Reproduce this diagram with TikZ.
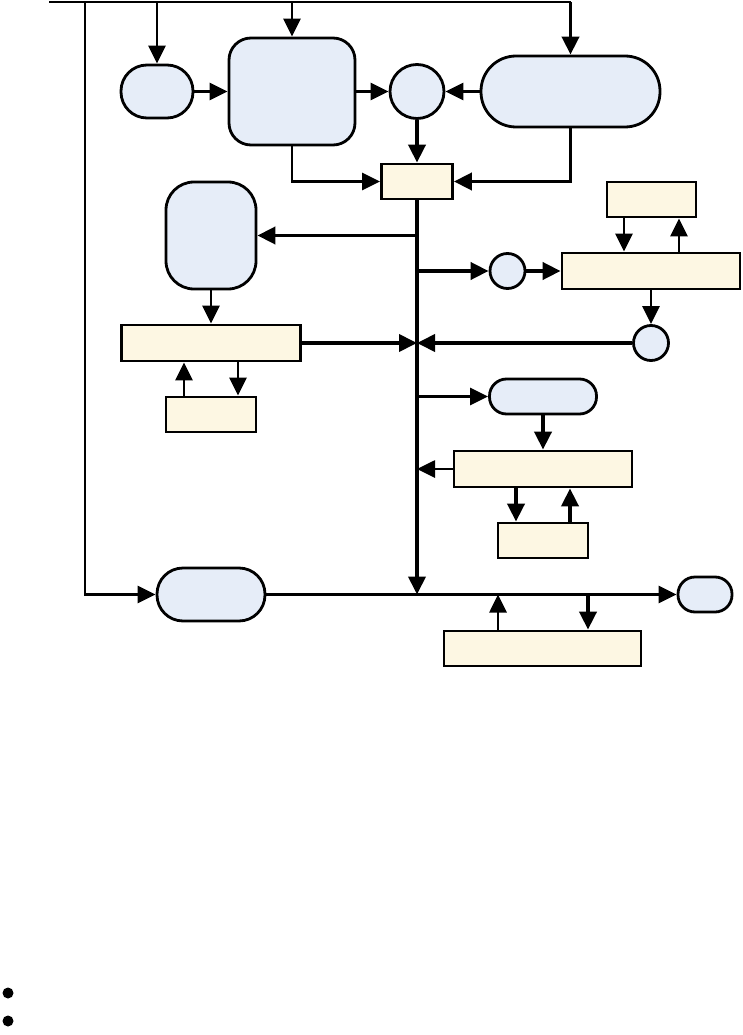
\documentclass[tikz,border=0pt]{standalone}
\usetikzlibrary{arrows.meta}
\definecolor{bfill}{RGB}{230,237,248}
\definecolor{yfill}{RGB}{253,247,227}
\begin{document}
\begin{tikzpicture}[x=1pt,y=-1pt,
  bluebox/.style={draw, line width=2.8pt, fill=bfill, inner sep=0pt},
  yelbox/.style={draw, line width=2.8pt, fill=yfill, inner sep=0pt},
  circ/.style={draw, line width=2.8pt, fill=bfill, circle, inner sep=0pt},
  conn/.style={line width=2.7pt},
  arr/.style={line width=2.7pt, -{Triangle[length=18pt,width=17pt]}},
  tarr/.style={line width=3.9pt, -{Triangle[length=18pt,width=17pt]}}]
\useasboundingbox (0,0) rectangle (742,1035);
% nodes
\node[bluebox, rounded corners=26pt, minimum width=72pt, minimum height=53pt] (s1) at (157,91.5) {};
\node[bluebox, rounded corners=22pt, minimum width=126pt, minimum height=107pt] (big) at (292,91.5) {};
\node[circ, minimum size=54pt] (c1) at (417,91.5) {};
\node[bluebox, rounded corners=35pt, minimum width=179pt, minimum height=71pt] (cap1) at (570.5,91.5) {};
\node[yelbox, minimum width=71pt, minimum height=35pt] (b1) at (417,181.5) {};
\node[bluebox, rounded corners=28pt, minimum width=90pt, minimum height=107pt] (tall) at (211,235.5) {};
\node[yelbox, minimum width=179pt, minimum height=36pt] (w1) at (211,343) {};
\node[yelbox, minimum width=90pt, minimum height=35pt] (sb1) at (211,414.5) {};
\node[circ, minimum size=35pt] (c2) at (507.5,271) {};
\node[yelbox, minimum width=178pt, minimum height=36pt] (w2) at (651,271) {};
\node[yelbox, minimum width=89pt, minimum height=35pt] (sb2) at (651.5,199.5) {};
\node[circ, minimum size=35pt] (c3) at (651,343) {};
\node[bluebox, rounded corners=17pt, minimum width=107pt, minimum height=35pt] (cap2) at (543,396.5) {};
\node[yelbox, minimum width=178pt, minimum height=36pt] (w3) at (543,469) {};
\node[yelbox, minimum width=90pt, minimum height=35pt] (sb3) at (543,540.5) {};
\node[bluebox, rounded corners=26pt, minimum width=108pt, minimum height=53pt] (cap3) at (211,594.5) {};
\node[bluebox, rounded corners=17pt, minimum width=54pt, minimum height=35pt] (cap4) at (705,594.5) {};
\node[yelbox, minimum width=197pt, minimum height=35pt] (w4) at (542.5,648.5) {};
% coordinates
\coordinate (tl) at (49,2);
\coordinate (tr) at (570.5,2);
\coordinate (lx) at (85,2);
\coordinate (busend) at (417,594.5);
% top distribution line
\draw[conn] (tl) -- (tr);
\draw[arr] (s1.north |- tl) -- (s1.north);
\draw[arr] (big.north |- tl) -- (big.north);
\draw[tarr] (tr) -- (cap1.north);
\draw[arr] (lx) -- (lx |- cap3.west) -- (cap3.west);
% upper flow
\draw[arr] (s1.east) -- (big.west);
\draw[arr] (big.east) -- (c1.west);
\draw[arr] (cap1.west) -- (c1.east);
\draw[tarr] (c1.south) -- (b1.north);
\draw[arr] (big.south) |- (b1.west);
\draw[tarr] (cap1.south) |- (b1.east);
% bus
\draw[tarr] (b1.south) -- (busend);
\draw[tarr] (b1.south |- tall.east) -- (tall.east);
\draw[arr] (tall.south) -- (w1.north);
\draw[tarr] (w1.east) -- (b1.south |- w1.east);
\draw[arr] ([xshift=-27pt]sb1.north) -- ([xshift=-27pt]w1.south);
\draw[arr] ([xshift=27pt]w1.south) -- ([xshift=27pt]sb1.north);
% right branch 1
\draw[tarr] (b1.south |- c2.west) -- (c2.west);
\draw[tarr] (c2.east) -- (w2.west);
\draw[arr] ([xshift=-27.5pt]sb2.south) -- ([xshift=-27.5pt]sb2.south |- w2.north);
\draw[arr] ([xshift=27.5pt]sb2.south |- w2.north) -- ([xshift=27.5pt]sb2.south);
\draw[arr] (w2.south) -- (c3.north);
\draw[tarr] (c3.west) -- (b1.south |- c3.west);
% right branch 2
\draw[arr] (b1.south |- cap2.west) -- (cap2.west);
\draw[tarr] (cap2.south) -- (w3.north);
\draw[arr] (w3.west) -- (b1.south |- w3.west);
\draw[tarr] ([xshift=-27pt]w3.south) -- ([xshift=-27pt]sb3.north);
\draw[tarr] ([xshift=27pt]sb3.north) -- ([xshift=27pt]w3.south);
% bottom line
\draw[arr] (cap3.east) -- (cap4.west);
\draw[arr] ([xshift=-44.5pt]w4.north) -- ([xshift=-44.5pt]w4.north |- cap3.east);
\draw[tarr] ([xshift=45.5pt]w4.north |- cap3.east) -- ([xshift=45.5pt]w4.north);
% bullets
\fill (8,993) circle[radius=5.5pt];
\fill (8,1021) circle[radius=5.5pt];
\end{tikzpicture}
\end{document}
